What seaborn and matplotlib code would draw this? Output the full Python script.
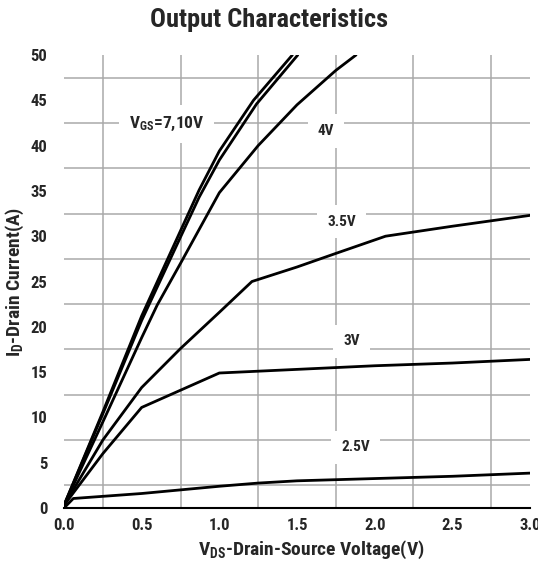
import numpy as np
import pandas as pd
import matplotlib
matplotlib.use("Agg")
import matplotlib.pyplot as plt
from matplotlib import font_manager
from matplotlib.ticker import FixedLocator
import seaborn as sns

# Output characteristics: drain current vs drain-source voltage per gate voltage
v_10 = [0.0, 0.25, 0.50, 0.75, 0.87, 1.00, 1.22, 1.47]
i_10 = [0.3, 10.6, 21.2, 30.6, 35.1, 39.4, 45.0, 50.0]

v_7 = [0.0, 0.25, 0.50, 0.75, 0.87, 1.00, 1.24, 1.505]
i_7 = [0.3, 10.4, 20.7, 29.9, 34.3, 38.4, 44.6, 50.0]

v_4 = [0.0, 0.25, 0.50, 0.60, 0.75, 1.00, 1.25, 1.50, 1.75, 1.88]
i_4 = [0.3, 9.5, 18.8, 22.4, 27.0, 34.8, 40.0, 44.5, 48.3, 50.0]

v_35 = [0.0, 0.25, 0.50, 0.75, 1.00, 1.21, 1.50, 1.75, 2.07, 2.50, 3.00]
i_35 = [0.3, 7.5, 13.3, 17.6, 21.6, 25.0, 26.6, 28.1, 30.0, 31.1, 32.3]

v_3 = [0.0, 0.25, 0.50, 0.75, 1.00, 1.50, 2.00, 2.50, 3.00]
i_3 = [0.3, 6.0, 11.1, 13.0, 14.9, 15.3, 15.7, 16.0, 16.4]

v_25 = [0.0, 0.06, 0.50, 1.00, 1.25, 1.50, 2.00, 2.50, 3.00]
i_25 = [0.0, 1.05, 1.6, 2.4, 2.75, 3.0, 3.25, 3.5, 3.85]

curve_names = ["10V", "7V", "4V", "3.5V", "3V", "2.5V"]
curve_v = [v_10, v_7, v_4, v_35, v_3, v_25]
curve_i = [i_10, i_7, i_4, i_35, i_3, i_25]

# curve annotations (text, V, I, size)
label_texts = [r"$\mathdefault{V_{GS}}$=7,10V", "4V", "3.5V", "3V", "2.5V"]
label_v = [0.66, 1.687, 1.787, 1.851, 1.877]
label_i = [42.4, 41.6, 31.6, 18.4, 6.7]
label_size = [12.5, 11, 11, 11, 11]

x_ticks = [0.0, 0.5, 1.0, 1.5, 2.0, 2.5, 3.0]
y_ticks = [0, 5, 10, 15, 20, 25, 30, 35, 40, 45, 50]

frames = [pd.DataFrame({"Vds": v, "Id": i, "Vgs": n})
          for n, v, i in zip(curve_names, curve_v, curve_i)]
df = pd.concat(frames, ignore_index=True)

sns.set_theme(style="white")


def pick_font(candidates):
    for name in candidates:
        try:
            font_manager.findfont(font_manager.FontProperties(family=name),
                                  fallback_to_default=False)
            return name
        except Exception:
            continue
    return "DejaVu Sans"


fam = pick_font(["Liberation Sans Narrow", "Roboto Condensed", "Liberation Sans", "Roboto"])
plt.rcParams["font.family"] = [fam, "DejaVu Sans"]
plt.rcParams["font.weight"] = "bold"
plt.rcParams["mathtext.fontset"] = "custom"
plt.rcParams["mathtext.rm"] = f"{fam}:bold"
plt.rcParams["mathtext.it"] = f"{fam}:bold"
plt.rcParams["mathtext.bf"] = f"{fam}:bold"
plt.rcParams["mathtext.default"] = "regular"

fig = plt.figure(figsize=(5.38, 5.66), dpi=100)
ax = fig.add_axes([64 / 538, 1 - 508 / 566, 466 / 538, 453 / 566])

sns.lineplot(data=df, x="Vds", y="Id", hue="Vgs", units="Vgs", estimator=None,
             sort=False, palette=["black"] * len(curve_names), linewidth=2.0,
             legend=False, ax=ax, zorder=3)

ax.set_xlim(0, 3.0)
ax.set_ylim(0, 50)
ax.xaxis.set_major_locator(FixedLocator(x_ticks))
ax.yaxis.set_major_locator(FixedLocator(y_ticks))
ax.xaxis.set_minor_locator(FixedLocator(list(np.arange(0.25, 2.99, 0.25))))
ax.yaxis.set_minor_locator(FixedLocator(list(np.arange(2.5, 49.9, 2.5))))
ax.set_xticklabels([f"{t:.1f}" for t in x_ticks])
ax.set_yticklabels([str(t) for t in y_ticks])
ax.grid(False, which="major")
ax.grid(True, which="minor", color="#a9a9a9", linewidth=1.1)
ax.set_axisbelow(True)
ax.tick_params(which="both", length=0)
ax.tick_params(axis="x", pad=7, labelsize=12)
ax.tick_params(axis="y", pad=12, labelsize=12)
for lab in ax.get_xticklabels() + ax.get_yticklabels():
    lab.set_fontweight("bold")

for side in ["top", "right", "left"]:
    ax.spines[side].set_visible(False)
ax.spines["bottom"].set_color("black")
ax.spines["bottom"].set_linewidth(1.5)

ax.set_xlabel(r"$\mathdefault{V_{DS}}$-Drain-Source Voltage(V)", fontsize=14,
              fontweight="bold", labelpad=4, x=0.53)
ax.set_ylabel(r"$\mathdefault{I_{D}}$-Drain Current(A)", fontsize=14,
              fontweight="bold", labelpad=3)
ax.set_title("Output Characteristics", fontsize=19, fontweight="bold", pad=20, x=0.44)

for txt, lv, li, fs in zip(label_texts, label_v, label_i, label_size):
    ax.text(lv, li, txt, fontsize=fs, fontweight="bold", ha="center", va="center",
            zorder=2, bbox=dict(facecolor="white", edgecolor="none", pad=7))

fig.savefig("out.png", dpi=100)
